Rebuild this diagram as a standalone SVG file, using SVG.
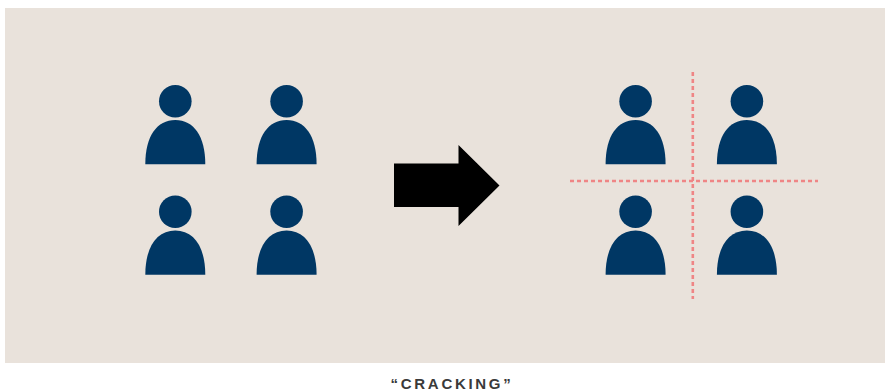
<svg xmlns="http://www.w3.org/2000/svg" width="885" height="392" viewBox="0 0 885 392">
<style>
.person{fill:#003764}
.dash{stroke:#ef8585;stroke-width:2.6;stroke-dasharray:4 3;fill:none}
.cap{font-family:"Liberation Sans",Arial,sans-serif;font-size:15px;font-weight:700;letter-spacing:2.7px;fill:#3a3a3a;text-anchor:middle}
</style>
<defs>
<g id="p"><circle cx="175.3" cy="101.3" r="16.3"/><path d="M145.3 164.3C145.3 136 157 120 175.3 120C193.6 120 205.3 136 205.3 164.3Z"/></g>
</defs>
<rect id="background" x="5" y="8" width="880" height="355" fill="#e9e2db"/>
<g id="person-1" class="person"><use href="#p"/></g>
<g id="person-2" class="person"><use href="#p" x="111.3"/></g>
<g id="person-3" class="person"><use href="#p" y="110.5"/></g>
<g id="person-4" class="person"><use href="#p" x="111.3" y="110.5"/></g>
<g id="person-5" class="person"><use href="#p" x="460.3"/></g>
<g id="person-6" class="person"><use href="#p" x="571.6"/></g>
<g id="person-7" class="person"><use href="#p" x="460.3" y="110.5"/></g>
<g id="person-8" class="person"><use href="#p" x="571.6" y="110.5"/></g>
<g id="connectors">
<path id="arrow" d="M394 163.5H458.5V145L499.5 185.5L458.5 226V207H394Z" fill="#000"/>
<path class="dash" d="M570 181H818"/>
<path class="dash" d="M692.8 72V299"/>
</g>
<text id="caption" class="cap" x="452" y="389">“CRACKING”</text>
</svg>
